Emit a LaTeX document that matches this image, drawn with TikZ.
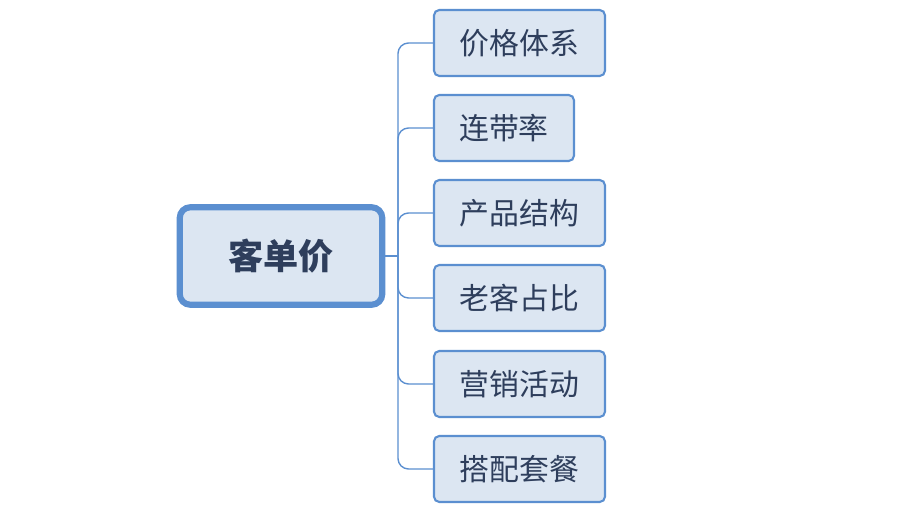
\documentclass[tikz,border=0pt]{standalone}
\usepackage{fontspec}
\newfontfamily\cjk{Noto Sans CJK SC}
\definecolor{boxfill}{HTML}{DCE6F2}
\definecolor{boxline}{HTML}{5B8FD0}
\definecolor{boxtext}{HTML}{2E3E5C}
\begin{document}
\begin{tikzpicture}[x=0.02cm,y=-0.02cm,
    leaf/.style={draw=boxline, fill=boxfill, line width=1.2pt, rounded corners=3pt,
      minimum width=3.42cm, minimum height=1.32cm, font=\cjk\fontsize{17}{20}\selectfont, text=boxtext},
    link/.style={draw=boxline, line width=0.8pt, rounded corners=6pt}]
    \useasboundingbox (0,0) rectangle (921,506);
    \node[draw=boxline, fill=boxfill, line width=3.5pt, rounded corners=6pt,
      minimum width=4.05cm, minimum height=1.95cm, font=\cjk\bfseries\fontsize{20}{24}\selectfont, text=boxtext] (root) at (281,256) {客单价};
    \node[leaf] (p1) at (519.5,43) {价格体系};
    \node[leaf, minimum width=2.8cm] (p2) at (504,128) {连带率};
    \node[leaf] (p3) at (519.5,213) {产品结构};
    \node[leaf] (p4) at (519.5,298) {老客占比};
    \node[leaf] (p5) at (519.5,384) {营销活动};
    \node[leaf] (p6) at (519.5,469) {搭配套餐};
    \coordinate (trunk) at (398,256);

    \draw[link] (root.east) -- (trunk);
    \foreach \n in {p1,p2,p3,p4,p5,p6}
        \draw[link] (trunk) |- (\n.west);
\end{tikzpicture}
\end{document}
